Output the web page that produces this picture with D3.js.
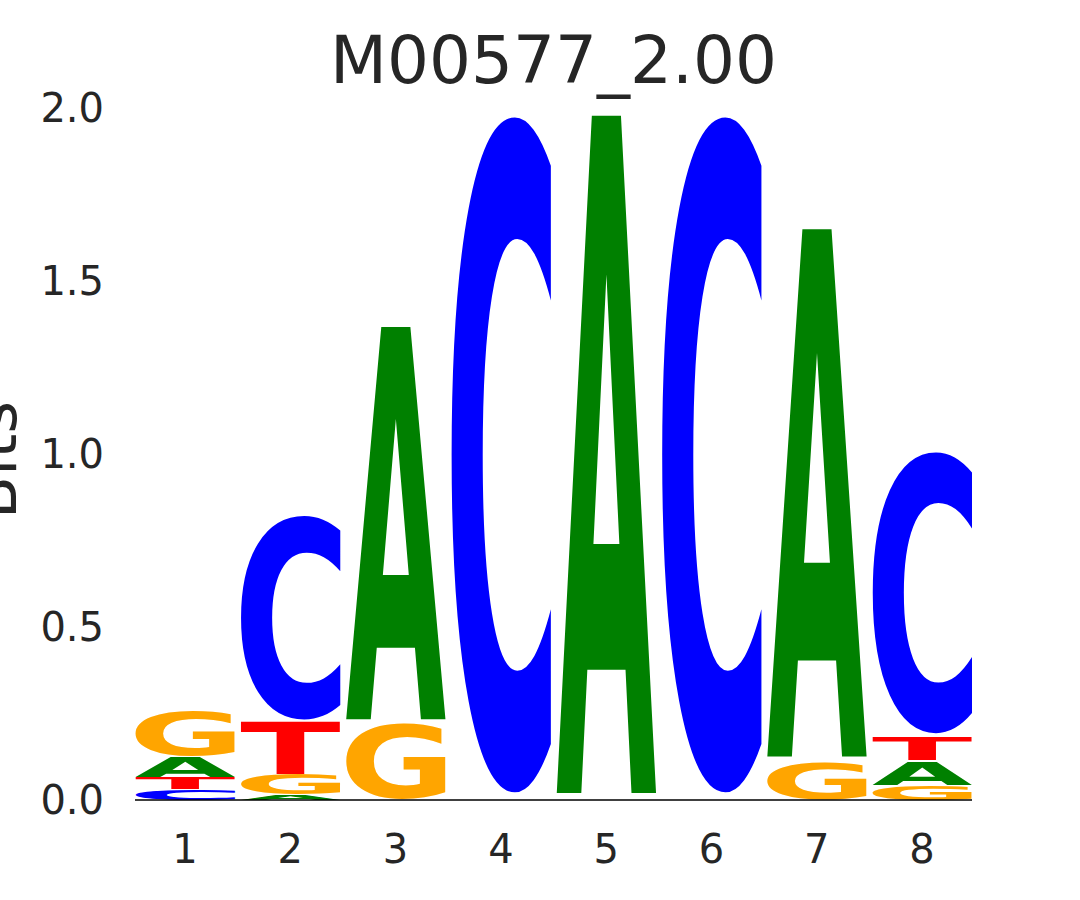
<!DOCTYPE html>
<html>
<head>
<meta charset="utf-8">
<script src="https://cdn.jsdelivr.net/npm/d3@7"></script>
<style>
  html, body { margin: 0; padding: 0; background: #ffffff; }
  svg { display: block; }
</style>
</head>
<body>
<div id="chart"></div>
<script>
// ---- data ----
const title = "M00577_2.00";
const yLabel = "Bits";
const positions = [1, 2, 3, 4, 5, 6, 7, 8];
const bases = ["A", "C", "G", "T"];
const valuesA = [0.059, 0.015, 1.158, 0.000, 2.000, 0.000, 1.557, 0.069];
const valuesC = [0.032, 0.603, 0.000, 2.000, 0.000, 2.000, 0.000, 0.832];
const valuesG = [0.130, 0.058, 0.222, 0.000, 0.000, 0.000, 0.110, 0.044];
const valuesT = [0.035, 0.153, 0.000, 0.000, 0.000, 0.000, 0.000, 0.071];
const yTicks = [0.0, 0.5, 1.0, 1.5, 2.0];
const baseColors = { A: "#008000", C: "#0000ff", G: "#ffa500", T: "#ff0000" };

// ---- layout ----
const W = 1080, H = 900;
const textColor = "#262626";
const fontFamily = "'DejaVu Sans', sans-serif";
const glyphFont = "bold 200px 'DejaVu Sans'";

const svg = d3.select("#chart").append("svg")
  .attr("width", W).attr("height", H);

const x = d3.scaleLinear().domain([1, 8]).range([185, 922]);
const y = d3.scaleLinear().domain([0, 2]).range([800, 108]);
const step = x(2) - x(1);
const glyphW = step * 0.95;
const vpad = 0.01;

// measure ink bounds of each glyph using canvas
const ctx = document.createElement("canvas").getContext("2d");
ctx.font = glyphFont;
const ink = {};
bases.forEach(b => {
  const m = ctx.measureText(b);
  ink[b] = {
    left: m.actualBoundingBoxLeft,
    right: m.actualBoundingBoxRight,
    asc: m.actualBoundingBoxAscent,
    desc: m.actualBoundingBoxDescent
  };
});

const valueMap = { A: valuesA, C: valuesC, G: valuesG, T: valuesT };

// build stacks: smallest at bottom
const glyphs = [];
positions.forEach((p, i) => {
  const col = bases.map(b => ({ base: b, v: valueMap[b][i] }))
    .filter(d => d.v > 0)
    .sort((a, b) => a.v - b.v);
  let floor = 0;
  col.forEach(d => {
    glyphs.push({ pos: p, base: d.base, y0: floor, y1: floor + d.v });
    floor += d.v;
  });
});

const g = svg.append("g");
g.selectAll("text.glyph").data(glyphs).enter().append("text")
  .attr("class", "glyph")
  .text(d => d.base)
  .style("font", glyphFont)
  .attr("fill", d => baseColors[d.base])
  .attr("transform", d => {
    const b = ink[d.base];
    const inkW = b.left + b.right;
    const inkH = b.asc + b.desc;
    const top = y(d.y1), bot = y(d.y0);
    const hPx = bot - top;
    const pad = hPx * vpad;
    const gh = hPx - 2 * pad;
    const x0 = x(d.pos) - glyphW / 2;
    const sx = glyphW / inkW, sy = gh / inkH;
    return `translate(${x0},${top + pad}) scale(${sx},${sy}) translate(${b.left},${b.asc})`;
  });

// baseline
svg.append("line")
  .attr("x1", x(1) - glyphW / 2).attr("x2", x(8) + glyphW / 2)
  .attr("y1", y(0)).attr("y2", y(0))
  .attr("stroke", "#000").attr("stroke-width", 1.5);

// y tick labels
svg.selectAll("text.ytick").data(yTicks).enter().append("text")
  .attr("class", "ytick")
  .attr("x", 104).attr("y", d => y(d))
  .attr("dy", "0.36em")
  .attr("text-anchor", "end")
  .style("font-family", fontFamily).style("font-size", "40px")
  .attr("fill", textColor)
  .text(d => d.toFixed(1));

// x tick labels
svg.selectAll("text.xtick").data(positions).enter().append("text")
  .attr("class", "xtick")
  .attr("x", d => x(d)).attr("y", 863)
  .attr("text-anchor", "middle")
  .style("font-family", fontFamily).style("font-size", "40px")
  .attr("fill", textColor)
  .text(d => d);

// y label
svg.append("text")
  .attr("transform", "translate(16,460) rotate(-90)")
  .attr("text-anchor", "middle")
  .style("font-family", fontFamily).style("font-size", "63px")
  .attr("fill", textColor)
  .text(yLabel);

// title
svg.append("text")
  .attr("x", (x(1) - glyphW / 2 + x(8) + glyphW / 2) / 2).attr("y", 83)
  .attr("text-anchor", "middle")
  .style("font-family", fontFamily).style("font-size", "66px")
  .attr("fill", textColor)
  .text(title);
</script>
</body>
</html>
